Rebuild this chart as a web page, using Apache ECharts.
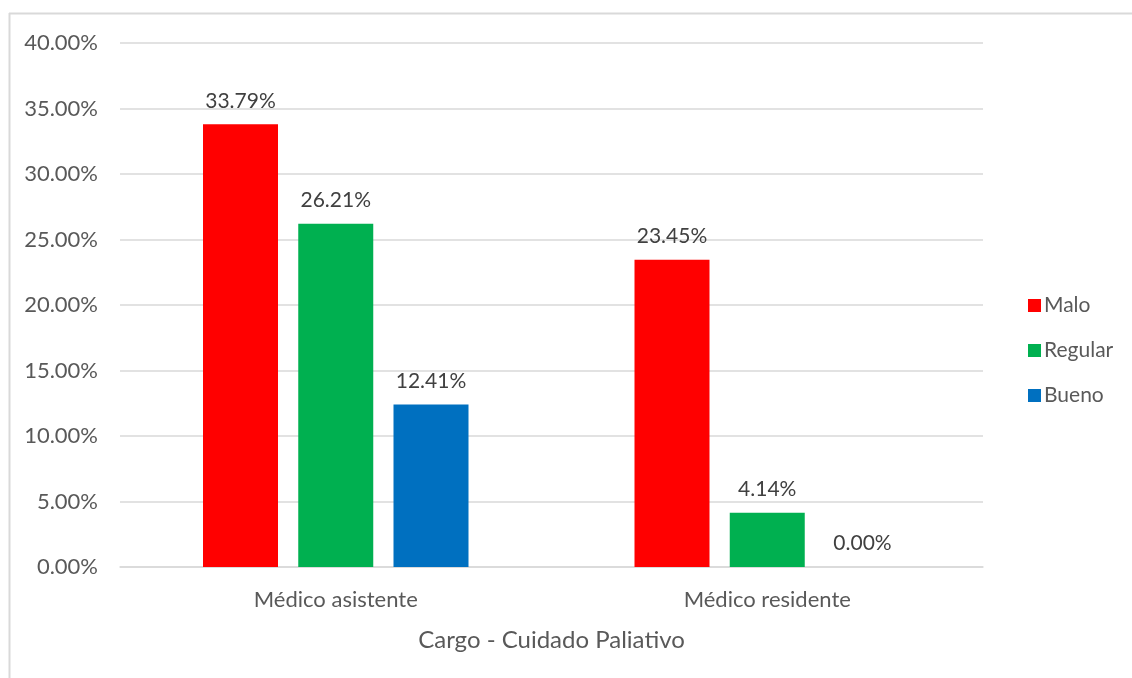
<!DOCTYPE html>
<html>
<head>
<meta charset="utf-8">
<script src="https://cdn.jsdelivr.net/npm/echarts@6/dist/echarts.min.js"></script>
<style>html,body{margin:0;padding:0;background:#fff}#c{width:1132px;height:678px}</style>
</head>
<body>
<div id="c"></div>
<script>
const categories = ['Médico asistente', 'Médico residente'];
const malo = [33.79, 23.45];
const regular = [26.21, 4.14];
const bueno = [12.41, 0.00];
const yTicks = [0, 5, 10, 15, 20, 25, 30, 35, 40];
const axisTitle = 'Cargo - Cuidado Paliativo';

const font = 'Lato, "Open Sans", sans-serif';
const chart = echarts.init(document.getElementById('c'));
const lbl = {
  show: true, position: 'top', distance: 13,
  formatter: p => p.value.toFixed(2) + '%',
  fontFamily: font, fontSize: 21, color: '#404040'
};
function mk(name, data, color) {
  return { name, type: 'bar', data, barWidth: 75, barGap: '27%',
    itemStyle: { color }, label: lbl };
}
chart.setOption({
  animation: false,
  backgroundColor: '#fff',
  graphic: [
    { type: 'line', shape: { x1: 9.5, y1: 13, x2: 9.5, y2: 678 }, style: { stroke: '#d9d9d9', lineWidth: 2 } },
    { type: 'line', shape: { x1: 9, y1: 13.5, x2: 1132, y2: 13.5 }, style: { stroke: '#d9d9d9', lineWidth: 2 } }
  ],
  grid: { left: 120, right: 149, top: 43, bottom: 111 },
  legend: {
    orient: 'vertical', left: 1023, top: 289,
    itemWidth: 13, itemHeight: 13, itemGap: 22,
    icon: 'rect',
    textStyle: { fontFamily: font, fontSize: 21, color: '#595959', lineHeight: 23, padding: [0, 0, 0, -2] },
    data: ['Malo', 'Regular', 'Bueno']
  },
  xAxis: {
    type: 'category', data: categories,
    name: axisTitle, nameLocation: 'middle', nameGap: 61,
    nameTextStyle: { fontFamily: font, fontSize: 24, color: '#595959' },
    axisLine: { lineStyle: { color: '#d9d9d9', width: 1.5 } },
    axisTick: { show: false },
    axisLabel: { fontFamily: font, fontSize: 22, color: '#595959', margin: 22 }
  },
  yAxis: {
    type: 'value', min: 0, max: 40, interval: 5,
    axisLine: { show: false }, axisTick: { show: false },
    splitLine: { lineStyle: { color: '#d9d9d9', width: 1.5 } },
    axisLabel: { fontFamily: font, fontSize: 22, color: '#595959', margin: 22,
      formatter: v => yTicks.includes(v) ? v.toFixed(2) + '%' : '' }
  },
  series: [
    mk('Malo', malo, '#ff0000'),
    mk('Regular', regular, '#00b050'),
    mk('Bueno', bueno, '#0070c0')
  ]
});
</script>
</body>
</html>
